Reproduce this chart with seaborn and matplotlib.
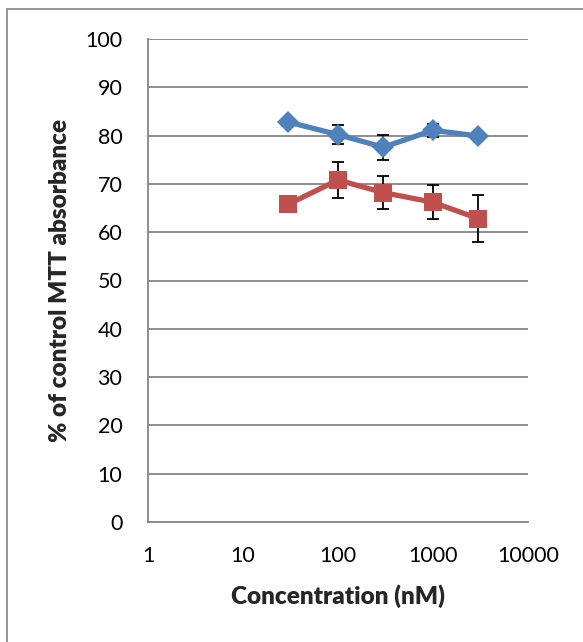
import matplotlib
matplotlib.use("Agg")
import matplotlib.pyplot as plt
import matplotlib.patches as mpatches
import numpy as np
import pandas as pd
import seaborn as sns

# concentrations (nM)
conc = [30, 100, 300, 1000, 3000]

# % of control MTT absorbance, mean and error for each treatment
blue_mean = [82.8, 80.2, 77.6, 81.1, 79.9]
blue_err = [0.6, 1.9, 2.6, 1.3, 0.6]
red_mean = [65.8, 70.8, 68.2, 66.2, 62.8]
red_err = [0.0, 3.7, 3.5, 3.5, 4.8]

x_ticks = [1, 10, 100, 1000, 10000]
x_tick_labels = ["1", "10", "100", "1000", "10000"]
y_ticks = list(range(0, 101, 10))

BLUE = "#4F81BD"
RED = "#C0504D"
GRID = "#868686"

df = pd.DataFrame({
    "conc": conc * 2,
    "value": blue_mean + red_mean,
    "err": blue_err + red_err,
    "series": ["A"] * len(conc) + ["B"] * len(conc),
})

sns.set_theme(style="white")
plt.rcParams["font.family"] = ["Lato", "DejaVu Sans"]

fig = plt.figure(figsize=(5.83, 6.42), dpi=100)
ax = fig.add_axes([148 / 583, 1 - 522 / 642, (528 - 148) / 583, (522 - 39) / 642])

# error bars sit behind the markers
for name in ["A", "B"]:
    sub = df[df["series"] == name]
    ax.errorbar(sub["conc"], sub["value"], yerr=sub["err"], fmt="none",
                ecolor="black", elinewidth=1.3, capsize=4, capthick=1.3, zorder=2)

sns.lineplot(data=df, x="conc", y="value", hue="series", style="series",
             palette={"A": BLUE, "B": RED}, markers={"A": "D", "B": "s"},
             dashes=False, linewidth=3.8, markersize=13, markeredgewidth=0,
             legend=False, ax=ax, zorder=3)
# diamonds a touch smaller than the squares
ax.lines[-2].set_markersize(11)

ax.set_xscale("log")
ax.set_xlim(1, 10000)
ax.set_ylim(0, 100)
ax.set_xticks(x_ticks)
ax.set_xticklabels(x_tick_labels)
ax.xaxis.set_minor_locator(matplotlib.ticker.NullLocator())
ax.set_yticks(y_ticks)

ax.yaxis.grid(True, color=GRID, linewidth=1.3)
ax.xaxis.grid(False)
ax.set_axisbelow(True)
for side in ["top", "right"]:
    ax.spines[side].set_visible(False)
for side in ["left", "bottom"]:
    ax.spines[side].set_color(GRID)
    ax.spines[side].set_linewidth(1.3)

ax.tick_params(axis="both", which="major", direction="out", length=6.5,
               width=1.3, color=GRID, labelsize=15.5, labelcolor="black")
ax.tick_params(axis="y", pad=12)
ax.tick_params(axis="x", pad=11)

ax.set_xlabel("Concentration (nM)", fontsize=17.5, fontweight="heavy", labelpad=13)
ax.set_ylabel("% of control MTT absorbance", fontsize=17.5, fontweight="heavy", labelpad=10)

# chart area border
fig.patches.append(mpatches.Rectangle((7 / 583, -0.1), 1.2, 1 - 9 / 642 + 0.1,
                                      transform=fig.transFigure, fill=False,
                                      edgecolor="#8c8c8c", linewidth=1.3))

fig.savefig("out.png", dpi=100)
